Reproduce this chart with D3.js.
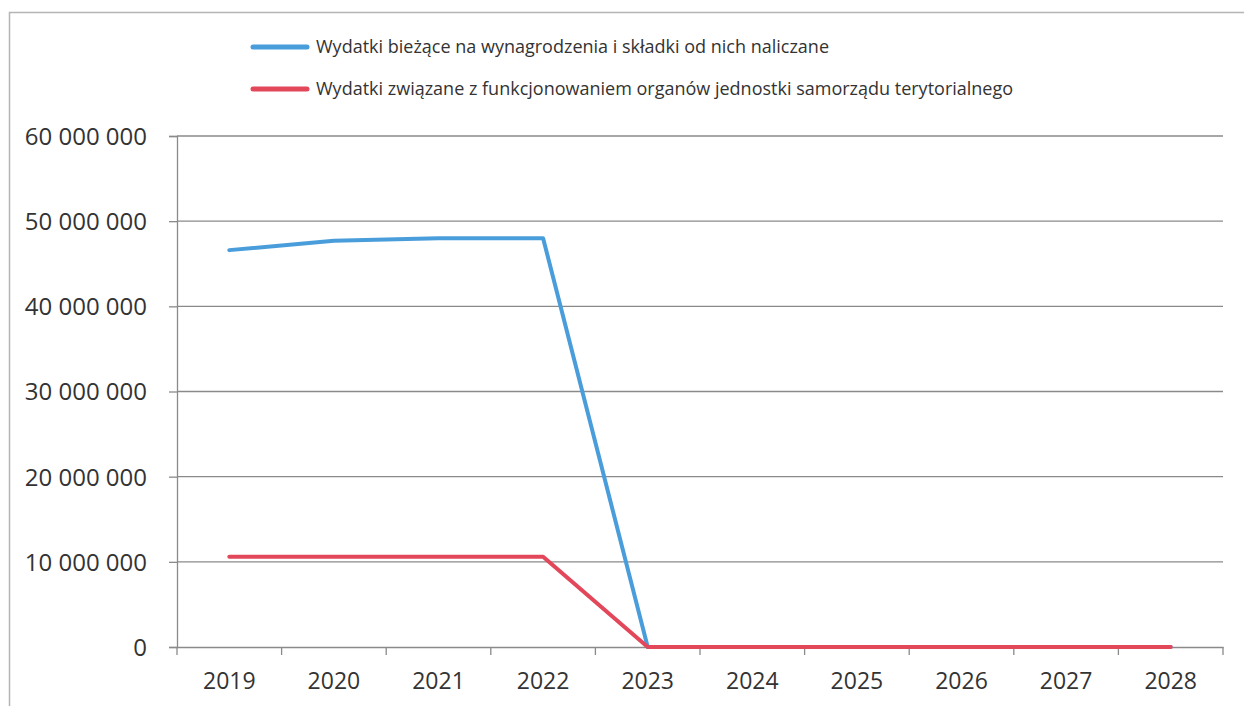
<!DOCTYPE html>
<html>
<head>
<meta charset="utf-8">
<script src="https://cdn.jsdelivr.net/npm/d3@7"></script>
<style>
  body { margin: 0; background: #fff; }
  text { font-family: "Open Sans", Lato, sans-serif; fill: #333; }
</style>
</head>
<body>
<div id="chart"></div>
<script>
// data
var years = ["2019", "2020", "2021", "2022", "2023", "2024", "2025", "2026", "2027", "2028"];
var wynagrodzenia = [46600000, 47700000, 48000000, 48000000, 0, 0, 0, 0, 0, 0];
var organy = [10600000, 10600000, 10600000, 10600000, 0, 0, 0, 0, 0, 0];
var yTicks = [0, 10000000, 20000000, 30000000, 40000000, 50000000, 60000000];
var seriesNames = [
    "Wydatki bieżące na wynagrodzenia i składki od nich naliczane",
    "Wydatki związane z funkcjonowaniem organów jednostki samorządu terytorialnego"
];
var seriesColors = ["#4a9ddb", "#e2475a"];

var full_width = 1244, full_height = 706;
var margin = {top: 136, right: 21, bottom: 59, left: 177};
var width = full_width - margin.left - margin.right,
    height = full_height - margin.top - margin.bottom;

var root = d3.select("#chart")
    .append("svg")
    .attr("width", full_width)
    .attr("height", full_height);

// outer frame
root.append("rect")
    .attr("x", 9.5).attr("y", 12.5)
    .attr("width", 1260).attr("height", 720)
    .attr("fill", "none")
    .attr("stroke", "#b5b5b5")
    .attr("stroke-width", 1.5);

var svg = root.append("g")
    .attr("transform", "translate(" + margin.left + "," + margin.top + ")");

var x = d3.scaleBand()
    .domain(years)
    .range([0, width]);

var y = d3.scaleLinear()
    .domain([0, 60000000])
    .range([height, 0]);

var fmt = function(v) { return d3.format(",")(v).replace(/,/g, " "); };

// gridlines
svg.append("g")
    .selectAll("line")
    .data(yTicks.filter(function(d) { return d > 0; }))
    .enter().append("line")
    .attr("x1", 0).attr("x2", width)
    .attr("y1", function(d) { return y(d); })
    .attr("y2", function(d) { return y(d); })
    .attr("stroke", "#8a8a8a")
    .attr("stroke-width", 1.3);

// y axis
var yAxis = svg.append("g")
    .call(d3.axisLeft(y).tickValues(yTicks).tickFormat(fmt).tickSize(8).tickPadding(22));
yAxis.select(".domain").attr("stroke", "#8a8a8a").attr("stroke-width", 1.3);
yAxis.selectAll(".tick line").attr("stroke", "#8a8a8a").attr("stroke-width", 1.3);
yAxis.selectAll("text").style("font-size", "24px").attr("fill", "#333").attr("dy", "0.35em");

// x axis: ticks on band boundaries
var xAxis = svg.append("g")
    .attr("transform", "translate(0," + height + ")")
    .call(d3.axisBottom(x).tickSize(0).tickPadding(26));
xAxis.select(".domain").attr("stroke", "#8a8a8a").attr("stroke-width", 1.3);
xAxis.selectAll("text").style("font-size", "23px").attr("fill", "#333");
xAxis.selectAll(".bound")
    .data(years.concat(["end"]))
    .enter().append("line")
    .attr("class", "bound")
    .attr("x1", function(d, i) { return i * x.step(); })
    .attr("x2", function(d, i) { return i * x.step(); })
    .attr("y1", 0).attr("y2", 8)
    .attr("stroke", "#8a8a8a")
    .attr("stroke-width", 1.3);

// lines
var line = d3.line()
    .x(function(d, i) { return x(years[i]) + x.bandwidth() / 2; })
    .y(function(d) { return y(d); });

[wynagrodzenia, organy].forEach(function(s, k) {
    svg.append("path")
        .datum(s)
        .attr("d", line)
        .attr("fill", "none")
        .attr("stroke", seriesColors[k])
        .attr("stroke-width", 4)
        .attr("stroke-linejoin", "round")
        .attr("stroke-linecap", "round");
});

// legend
var legend = root.append("g")
    .attr("transform", "translate(253,47)");
var item = legend.selectAll("g")
    .data(seriesNames)
    .enter().append("g")
    .attr("transform", function(d, i) { return "translate(0," + (i * 42) + ")"; });
item.append("line")
    .attr("x1", 0).attr("x2", 54)
    .attr("stroke", function(d, i) { return seriesColors[i]; })
    .attr("stroke-width", 5)
    .attr("stroke-linecap", "round");
item.append("text")
    .attr("x", 63)
    .attr("dy", "0.35em")
    .style("font-size", "18px")
    .text(function(d) { return d; });
</script>
</body>
</html>
